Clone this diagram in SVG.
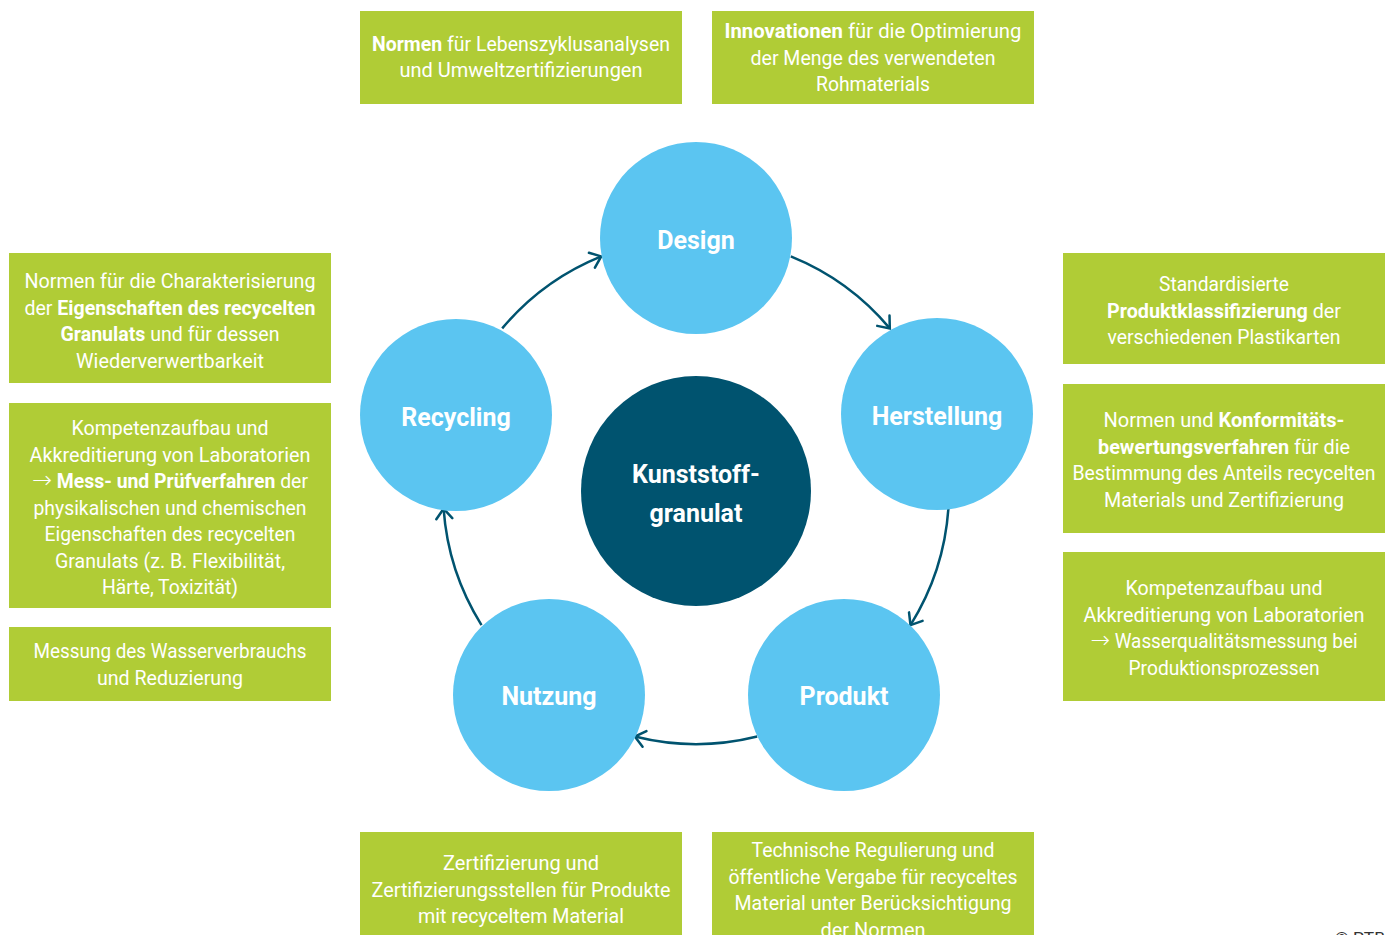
<svg xmlns="http://www.w3.org/2000/svg" width="1391" height="935" viewBox="0 0 1391 935">
  <defs>
    <style>
      .box { fill: #b0cc36; }
      .txt { font-family: Roboto, "Liberation Sans", sans-serif; font-size: 19.5px; fill: #ffffff; text-anchor: middle; }
      .b { font-weight: 700; }
      .arr { font-family: "Noto Sans", "DejaVu Sans", sans-serif; font-weight: 300; font-size: 24px; }
      .stage { fill: #5bc5f1; }
      .core { fill: #00536f; }
      .lbl { font-family: Roboto, "Liberation Sans", sans-serif; font-size: 25px; font-weight: 700; fill: #ffffff; text-anchor: middle; }
      .flow { fill: none; stroke: #00536f; stroke-width: 2.5; }
      .copy { font-family: Roboto, "Liberation Sans", sans-serif; font-size: 15px; fill: #333333; }
    </style>
    <marker id="head" markerUnits="userSpaceOnUse" markerWidth="24" markerHeight="24" viewBox="-12 -12 24 24" refX="0" refY="0" orient="auto">
      <path d="M -10 -8 L 0 0 L -10 8" fill="none" stroke="#00536f" stroke-width="2.5" stroke-linecap="round" stroke-linejoin="miter"/>
    </marker>
  </defs>

  <rect width="1391" height="935" fill="#ffffff"/>

  <!-- cycle connectors on a ring of radius 253 around (696,491) -->
  <g id="connectors">
    <path class="flow" d="M 790.8 256.4 A 253 253 0 0 1 889.8 328.4" marker-end="url(#head)"/>
    <path class="flow" d="M 948.4 508.7 A 253 253 0 0 1 910.5 625.1" marker-end="url(#head)"/>
    <path class="flow" d="M 757.2 736.5 A 253 253 0 0 1 634.8 736.5" marker-end="url(#head)"/>
    <path class="flow" d="M 481.5 625.1 A 253 253 0 0 1 443.6 508.7" marker-end="url(#head)"/>
    <path class="flow" d="M 502.2 328.4 A 253 253 0 0 1 601.2 256.4" marker-end="url(#head)"/>
  </g>

  <!-- stages -->
  <g id="design">
    <circle class="stage" cx="696" cy="238" r="96"/>
    <text class="lbl" x="696" y="249">Design</text>
  </g>
  <g id="herstellung">
    <circle class="stage" cx="937" cy="414" r="96"/>
    <text class="lbl" x="937" y="425">Herstellung</text>
  </g>
  <g id="produkt">
    <circle class="stage" cx="844" cy="695" r="96"/>
    <text class="lbl" x="844" y="705">Produkt</text>
  </g>
  <g id="nutzung">
    <circle class="stage" cx="549" cy="695" r="96"/>
    <text class="lbl" x="549" y="705">Nutzung</text>
  </g>
  <g id="recycling">
    <circle class="stage" cx="456" cy="415" r="96"/>
    <text class="lbl" x="456" y="426">Recycling</text>
  </g>
  <g id="kunststoffgranulat">
    <circle class="core" cx="696" cy="491" r="115"/>
    <text class="lbl" x="696" y="483">Kunststoff-</text>
    <text class="lbl" x="696" y="522">granulat</text>
  </g>

  <!-- top boxes -->
  <g id="box-normen-lca">
    <rect class="box" x="360" y="11" width="322" height="93"/>
    <text class="txt" x="521" y="51" textLength="298" lengthAdjust="spacingAndGlyphs"><tspan class="b">Normen</tspan> für Lebenszyklusanalysen</text>
    <text class="txt" x="521" y="77" textLength="243" lengthAdjust="spacingAndGlyphs">und Umweltzertifizierungen</text>
  </g>
  <g id="box-innovationen">
    <rect class="box" x="712" y="11" width="322" height="93"/>
    <text class="txt" x="873" y="38" textLength="297" lengthAdjust="spacingAndGlyphs"><tspan class="b">Innovationen</tspan> für die Optimierung</text>
    <text class="txt" x="873" y="64.5" textLength="245" lengthAdjust="spacingAndGlyphs">der Menge des verwendeten</text>
    <text class="txt" x="873" y="90.5" textLength="114" lengthAdjust="spacingAndGlyphs">Rohmaterials</text>
  </g>

  <!-- left boxes -->
  <g id="box-charakterisierung">
    <rect class="box" x="9" y="253" width="322" height="130"/>
    <text class="txt" x="170" y="288" textLength="291" lengthAdjust="spacingAndGlyphs">Normen für die Charakterisierung</text>
    <text class="txt" x="170" y="314.5" textLength="291" lengthAdjust="spacingAndGlyphs">der <tspan class="b">Eigenschaften des recycelten</tspan></text>
    <text class="txt" x="170" y="341" textLength="219" lengthAdjust="spacingAndGlyphs"><tspan class="b">Granulats</tspan> und für dessen</text>
    <text class="txt" x="170" y="367.5" textLength="188" lengthAdjust="spacingAndGlyphs">Wiederverwertbarkeit</text>
  </g>
  <g id="box-pruefverfahren">
    <rect class="box" x="9" y="403" width="322" height="205"/>
    <text class="txt" x="170" y="435" textLength="197" lengthAdjust="spacingAndGlyphs">Kompetenzaufbau und</text>
    <text class="txt" x="170" y="461.5" textLength="281" lengthAdjust="spacingAndGlyphs">Akkreditierung von Laboratorien</text>
    <text class="txt" x="170" y="488" textLength="276" lengthAdjust="spacingAndGlyphs"><tspan class="arr">→</tspan> <tspan class="b">Mess- und Prüfverfahren</tspan> der</text>
    <text class="txt" x="170" y="514.5" textLength="273" lengthAdjust="spacingAndGlyphs">physikalischen und chemischen</text>
    <text class="txt" x="170" y="541" textLength="251" lengthAdjust="spacingAndGlyphs">Eigenschaften des recycelten</text>
    <text class="txt" x="170" y="567.5" textLength="230" lengthAdjust="spacingAndGlyphs">Granulats (z. B. Flexibilität,</text>
    <text class="txt" x="170" y="594" textLength="136" lengthAdjust="spacingAndGlyphs">Härte, Toxizität)</text>
  </g>
  <g id="box-wasserverbrauch">
    <rect class="box" x="9" y="627" width="322" height="74"/>
    <text class="txt" x="170" y="658" textLength="273" lengthAdjust="spacingAndGlyphs">Messung des Wasserverbrauchs</text>
    <text class="txt" x="170" y="685" textLength="146" lengthAdjust="spacingAndGlyphs">und Reduzierung</text>
  </g>

  <!-- right boxes -->
  <g id="box-produktklassifizierung">
    <rect class="box" x="1063" y="253" width="322" height="111"/>
    <text class="txt" x="1224" y="291" textLength="130" lengthAdjust="spacingAndGlyphs">Standardisierte</text>
    <text class="txt" x="1224" y="317.5" textLength="234" lengthAdjust="spacingAndGlyphs"><tspan class="b">Produktklassifizierung</tspan> der</text>
    <text class="txt" x="1224" y="344" textLength="233" lengthAdjust="spacingAndGlyphs">verschiedenen Plastikarten</text>
  </g>
  <g id="box-konformitaet">
    <rect class="box" x="1063" y="384" width="322" height="149"/>
    <text class="txt" x="1224" y="427" textLength="241" lengthAdjust="spacingAndGlyphs">Normen und <tspan class="b">Konformitäts-</tspan></text>
    <text class="txt" x="1224" y="453.5" textLength="252" lengthAdjust="spacingAndGlyphs"><tspan class="b">bewertungsverfahren</tspan> für die</text>
    <text class="txt" x="1224" y="480" textLength="303" lengthAdjust="spacingAndGlyphs">Bestimmung des Anteils recycelten</text>
    <text class="txt" x="1224" y="506.5" textLength="240" lengthAdjust="spacingAndGlyphs">Materials und Zertifizierung</text>
  </g>
  <g id="box-wasserqualitaet">
    <rect class="box" x="1063" y="552" width="322" height="149"/>
    <text class="txt" x="1224" y="595" textLength="197" lengthAdjust="spacingAndGlyphs">Kompetenzaufbau und</text>
    <text class="txt" x="1224" y="621.5" textLength="281" lengthAdjust="spacingAndGlyphs">Akkreditierung von Laboratorien</text>
    <text class="txt" x="1224" y="648" textLength="267" lengthAdjust="spacingAndGlyphs"><tspan class="arr">→</tspan> Wasserqualitätsmessung bei</text>
    <text class="txt" x="1224" y="674.5" textLength="191" lengthAdjust="spacingAndGlyphs">Produktionsprozessen</text>
  </g>

  <!-- bottom boxes -->
  <g id="box-zertifizierung">
    <rect class="box" x="360" y="832" width="322" height="110"/>
    <text class="txt" x="521" y="870" textLength="156" lengthAdjust="spacingAndGlyphs">Zertifizierung und</text>
    <text class="txt" x="521" y="896.5" textLength="299" lengthAdjust="spacingAndGlyphs">Zertifizierungsstellen für Produkte</text>
    <text class="txt" x="521" y="923" textLength="206" lengthAdjust="spacingAndGlyphs">mit recyceltem Material</text>
  </g>
  <g id="box-regulierung">
    <rect class="box" x="712" y="832" width="322" height="110"/>
    <text class="txt" x="873" y="857" textLength="243" lengthAdjust="spacingAndGlyphs">Technische Regulierung und</text>
    <text class="txt" x="873" y="883.5" textLength="289" lengthAdjust="spacingAndGlyphs">öffentliche Vergabe für recyceltes</text>
    <text class="txt" x="873" y="910" textLength="277" lengthAdjust="spacingAndGlyphs">Material unter Berücksichtigung</text>
    <text class="txt" x="873" y="936.5" textLength="105" lengthAdjust="spacingAndGlyphs">der Normen</text>
  </g>

  <text class="copy" x="1335" y="942.5" textLength="50" lengthAdjust="spacingAndGlyphs">© PTB</text>
</svg>
